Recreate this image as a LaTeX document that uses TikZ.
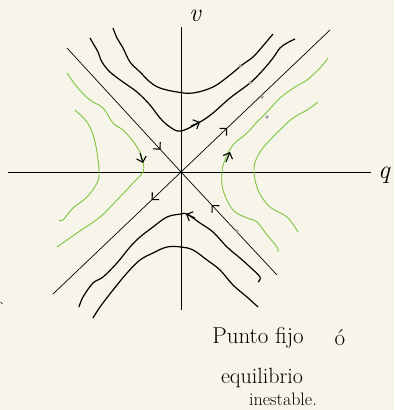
\documentclass[tikz,border=0pt]{standalone}
\usepackage{fontspec}
\usepackage{tikz}
\usetikzlibrary{arrows.meta,decorations.markings}
\definecolor{paper}{RGB}{247,245,234}
\definecolor{leaf}{RGB}{128,196,62}

\begin{document}
\begin{tikzpicture}[x=1pt,y=-1pt,
  axis/.style={line width=0.7pt},
  traj/.style={line width=1.2pt},
  lime/.style={line width=0.9pt, leaf},
  barb/.style={-{Straight Barb[length=5pt,width=10pt]}, line width=1.1pt},
  flow/.style={postaction=decorate, decoration={markings,
    mark=at position #1 with {\arrow[line width=1.1pt]{Straight Barb[length=5pt,width=10pt]}}}},
  hand/.style={font=\fontsize{23}{26}\selectfont}]
\fill[paper] (0,0) rectangle (394,410);
\useasboundingbox (0,0) rectangle (394,410);

% Axes q and v
\coordinate (O) at (181,172);
\coordinate (qL) at (8,172);   \coordinate (qR) at (371,172);
\coordinate (vT) at (181,27);  \coordinate (vB) at (181,310);
\draw[axis] (qL) -- (qR);
\draw[axis] (vT) -- (vB);
\node[font=\fontsize{26}{28}\itshape, inner sep=1pt] (vlab) at (195,16) {v};
\node[font=\fontsize{26}{28}\itshape, inner sep=1pt] (qlab) at (384,175) {q};

% Separatrices: stable (in) and unstable (out)
\coordinate (nw) at (67,48);   \coordinate (se) at (277,275);
\coordinate (ne) at (330,30);  \coordinate (sw) at (53,294);
\draw[axis, flow=0.82] (nw) -- (O);
\draw[axis, flow=0.68] (se) -- (O);
\draw[axis, flow=0.31] (O) -- (ne);
\draw[axis, flow=0.23] (O) -- (sw);

% Black trajectories, upper pair
\draw[traj] plot[smooth, tension=0.6] coordinates {(113,28) (117,38) (123,48) (130,62) (140,72)
  (150,82) (160,88) (177,92) (193,93) (213,87) (230,75) (242,65) (253,57) (262,47) (273,34)};
\draw[traj] plot[smooth, tension=0.6] coordinates {(90,38) (94,45) (98,52) (102,62) (110,72)
  (123,82) (137,92) (150,105) (160,118) (170,127) (181,131) (200,122) (213,113) (230,98)
  (250,83) (263,70) (273,58) (280,48) (287,43) (295,39)};
\draw[barb] (191,126) -- (200,122);

% Black trajectories, lower pair
\draw[traj] plot[smooth, tension=0.6] coordinates {(79,307) (83,297) (93,283) (103,277) (117,263)
  (130,247) (140,237) (153,227) (167,217) (181,214) (187,214) (200,223) (213,232) (227,247)
  (240,258) (250,267) (260,277) (258,282)};
\draw[traj] plot[smooth, tension=0.6] coordinates {(93,318) (100,307) (113,290) (127,273) (140,260)
  (153,253) (167,247) (181,247) (193,250) (207,260) (220,270) (233,285) (247,297) (258,307)};
\draw[barb] (195,218) -- (186,214);

% Green trajectories, left pair
\draw[lime] plot[smooth, tension=0.6] coordinates {(67,73) (77,87) (90,100) (103,108) (113,123)
  (123,130) (132,140) (140,152) (143,162) (143,172) (133,183) (117,200) (100,217) (77,233) (57,247)};
\draw[lime] plot[smooth, tension=0.6] coordinates {(75,110) (87,122) (93,135) (97,152) (99,172)
  (97,183) (87,197) (73,208) (63,220) (59,220)};
\draw[barb] (140,153) -- (143,163);

% Green trajectories, right pair
\draw[lime] plot[smooth, tension=0.6] coordinates {(328,58) (320,68) (307,80) (295,87) (280,98)
  (267,112) (257,122) (247,133) (233,145) (225,160) (222,172) (223,190) (233,210) (247,218)
  (257,222) (267,235) (277,247) (278,252)};
\draw[lime] plot[smooth, tension=0.6] coordinates {(318,102) (307,110) (293,118) (282,128) (270,140)
  (260,152) (254,168) (258,190) (270,207) (287,217) (298,232)};
\draw[barb] (226,162) -- (230,152);

% Grey marks
\foreach \p in {(240,66), (250,83), (262,97), (267,117), (237,231)}
  \fill[gray!75] \p circle (1.8);

% Caption
\node[hand] (punto) at (258,338) {Punto fijo};
\node[hand] (oacc) at (340,338) {ó};
\node[hand, font=\fontsize{22}{26}\selectfont] (equi) at (262,378) {equilibrio};
\node[hand, font=\fontsize{18}{21}\selectfont] (ines) at (283,399) {inestable.};
\draw[line width=0.5pt] (0.5,302) -- (2.5,304);
\end{tikzpicture}
\end{document}
